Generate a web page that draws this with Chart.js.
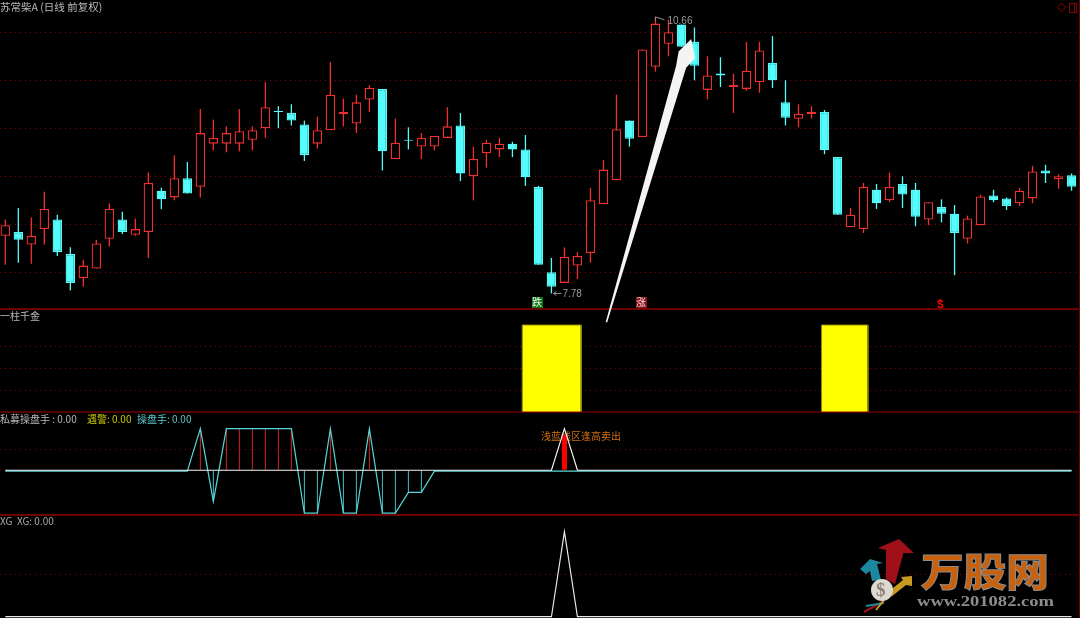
<!DOCTYPE html>
<html>
<head>
<meta charset="utf-8">
<style>
html, body { margin: 0; padding: 0; background: #000; overflow: hidden; }
canvas { display: block; }
</style>
<script src="https://cdn.jsdelivr.net/npm/chart.js@4/dist/chart.umd.js"></script>
</head>
<body>
<canvas id="klineChart" width="1080" height="618"></canvas>
<script>
// daily candles
const opens = [8.38, 8.42, 8.29, 8.45, 8.55, 8.19, 7.94, 8.04, 8.35, 8.55,
  8.39, 8.42, 8.85, 8.78, 8.98, 8.89, 9.34, 9.34, 9.34, 9.38,
  9.50, 9.68, 9.66, 9.54, 9.34, 9.48, 9.65, 9.55, 9.80, 9.91,
  9.18, 9.38, 9.31, 9.31, 9.40, 9.53, 9.00, 9.24, 9.28, 9.34,
  9.28, 8.89, 8.00, 7.89, 8.07, 8.20, 8.71, 8.96, 9.58, 9.41,
  10.14, 10.38, 10.58, 10.40, 9.90, 10.07, 9.93, 9.91, 9.98, 10.18,
  9.77, 9.60, 9.65, 9.67, 9.20, 8.47, 8.45, 8.86, 8.75, 8.92,
  8.86, 8.55, 8.68, 8.61, 8.35, 8.49, 8.80, 8.77, 8.72, 8.77,
  9.06, 8.97, 9.01];
const closes = [8.49, 8.34, 8.38, 8.66, 8.21, 7.89, 8.07, 8.30, 8.66, 8.42,
  8.45, 8.93, 8.76, 8.98, 8.82, 9.45, 9.40, 9.45, 9.47, 9.48,
  9.72, 9.67, 9.58, 9.22, 9.48, 9.85, 9.67, 9.77, 9.92, 9.26,
  9.35, 9.37, 9.40, 9.42, 9.52, 9.03, 9.18, 9.35, 9.34, 9.28,
  8.99, 8.08, 7.85, 8.16, 8.17, 8.75, 9.07, 9.49, 9.39, 10.32,
  10.59, 10.50, 10.35, 10.15, 10.05, 10.05, 9.95, 10.10, 10.31, 10.00,
  9.61, 9.65, 9.67, 9.27, 8.60, 8.60, 8.89, 8.72, 8.89, 8.81,
  8.58, 8.73, 8.61, 8.41, 8.56, 8.79, 8.75, 8.69, 8.85, 9.05,
  9.03, 9.00, 8.89];
const highs = [8.55, 8.67, 8.57, 8.84, 8.60, 8.26, 8.13, 8.34, 8.72, 8.63,
  8.56, 9.04, 8.88, 9.22, 9.15, 9.70, 9.59, 9.52, 9.70, 9.52,
  9.98, 9.73, 9.75, 9.58, 9.62, 10.19, 9.81, 9.85, 9.95, 9.91,
  9.60, 9.51, 9.45, 9.42, 9.72, 9.66, 9.31, 9.38, 9.40, 9.36,
  9.43, 8.90, 8.15, 8.26, 8.21, 8.88, 9.17, 9.85, 9.58, 10.32,
  10.66, 10.63, 10.58, 10.55, 10.25, 10.24, 10.07, 10.40, 10.40, 10.46,
  10.00, 9.75, 9.73, 9.69, 9.20, 8.67, 8.93, 8.92, 9.04, 9.00,
  8.93, 8.73, 8.76, 8.70, 8.59, 8.81, 8.86, 8.78, 8.88, 9.11,
  9.12, 9.02, 9.03];
const lows = [8.08, 8.10, 8.09, 8.29, 8.17, 7.81, 7.85, 8.04, 8.27, 8.40,
  8.38, 8.15, 8.66, 8.75, 8.82, 8.78, 9.27, 9.25, 9.26, 9.27,
  9.40, 9.50, 9.53, 9.16, 9.29, 9.48, 9.52, 9.45, 9.67, 9.06,
  9.18, 9.28, 9.18, 9.27, 9.40, 8.95, 8.75, 9.09, 9.20, 9.20,
  8.90, 8.08, 7.78, 7.89, 7.93, 8.10, 8.71, 8.96, 9.31, 9.41,
  10.09, 10.25, 10.35, 10.00, 9.80, 9.93, 9.66, 9.89, 9.87, 9.92,
  9.53, 9.51, 9.60, 9.23, 8.60, 8.47, 8.41, 8.66, 8.73, 8.67,
  8.48, 8.49, 8.52, 7.97, 8.30, 8.49, 8.73, 8.65, 8.69, 8.72,
  8.93, 8.87, 8.85];
const priceGrid = [10.5, 10, 9.5, 9, 8.5, 8];

// 一柱千金 blocks, x given in candle index units
const goldFrom = [39.75, 62.77];
const goldTo = [44.29, 66.34];
const goldHeight = 1;
const goldGrid = [0.75, 0.5, 0.25];

// 私募操盘手 panel, the cyan line rests just under the white one
const traderLine = [0, 0, 0, 0, 0, 0, 0, 0, 0, 0, 0, 0, 0, 0, 0, 0, 0, 0, 0, 0,
  0, 0, 0, 0, 0, 0, 0, 0, 0, 0, 0, 0, 0, 0, 0, 0, 0, 0, 0, 0,
  0, 0, 0, 100, 0, 0, 0, 0, 0, 0, 0, 0, 0, 0, 0, 0, 0, 0, 0, 0,
  0, 0, 0, 0, 0, 0, 0, 0, 0, 0, 0, 0, 0, 0, 0, 0, 0, 0, 0, 0,
  0, 0, 0];
const cyanLine = [-2, -2, -2, -2, -2, -2, -2, -2, -2, -2, -2, -2, -2, -2, -2, 100, -75, 100, 100, 100,
  100, 100, 100, -103, -103, 100, -103, -103, 100, -103, -103, -53, -53, -2, -2, -2, -2, -2, -2, -2,
  -2, -2, -2, -2, -2, -2, -2, -2, -2, -2, -2, -2, -2, -2, -2, -2, -2, -2, -2, -2,
  -2, -2, -2, -2, -2, -2, -2, -2, -2, -2, -2, -2, -2, -2, -2, -2, -2, -2, -2, -2,
  -2, -2, -2];
const sellIndex = [43];
const sellValue = [85];
const oscGrid = [50, 0];

// XG panel
const xgLine = [0, 0, 0, 0, 0, 0, 0, 0, 0, 0, 0, 0, 0, 0, 0, 0, 0, 0, 0, 0,
  0, 0, 0, 0, 0, 0, 0, 0, 0, 0, 0, 0, 0, 0, 0, 0, 0, 0, 0, 0,
  0, 0, 0, 100, 0, 0, 0, 0, 0, 0, 0, 0, 0, 0, 0, 0, 0, 0, 0, 0,
  0, 0, 0, 0, 0, 0, 0, 0, 0, 0, 0, 0, 0, 0, 0, 0, 0, 0, 0, 0,
  0, 0, 0];
const xgGrid = [50];

// hand drawn arrow, candle index / price units
const arrowX = [46.17, 51.59, 51.78, 52.75, 53.05, 52.36, 46.29];
const arrowY = [7.48, 10.15, 10.3, 10.43, 10.23, 10.13, 7.48];

const RED = '#f03030';
const CYAN = '#54fcfc';
const DARK_RED = '#6e0000';
const UI_FONT = '"Noto Sans CJK SC", "Liberation Sans", sans-serif';

const isUp = i => closes[i] >= opens[i];
const pts = (arr) => arr.map((v, i) => ({ x: i, y: v }));

const wicks = highs.map((h, i) => ({ x: i, y: [lows[i], h] }));
const bodies = opens.map((o, i) => ({ x: i, y: [Math.min(o, closes[i]), Math.max(o, closes[i])] }));

function polygon(ctx, points, fill) {
    ctx.beginPath();
    points.forEach((p, i) => (i ? ctx.lineTo(p[0], p[1]) : ctx.moveTo(p[0], p[1])));
    ctx.closePath();
    ctx.fillStyle = fill;
    ctx.fill();
}

function label(ctx, text, x, y, color, font) {
    ctx.font = font || ('10px ' + UI_FONT);
    ctx.fillStyle = color;
    ctx.textAlign = 'left';
    ctx.textBaseline = 'middle';
    ctx.fillText(text, x, y);
}

// text stretched to an exact width, for the logo lettering
function fitText(ctx, text, x, y, width, fill, stroke) {
    const w = ctx.measureText(text).width;
    ctx.save();
    ctx.translate(x, y);
    ctx.scale(width / w, 1);
    ctx.fillStyle = fill;
    ctx.fillText(text, 0, 0);
    if (stroke) {
        ctx.strokeStyle = stroke;
        ctx.lineWidth = 1;
        ctx.strokeText(text, 0, 0);
    }
    ctx.restore();
}

function drawLogo(ctx) {
    polygon(ctx, [[860, 569], [870, 559], [883, 563], [877, 564], [881, 580], [872, 581], [870, 571], [866, 574]], '#1c88a0');
    polygon(ctx, [[899, 539], [914, 553], [903.5, 553], [895, 584], [886, 579], [886, 550], [878, 548]], '#a01018');
    polygon(ctx, [[912, 576], [912, 586], [906, 585], [891, 597], [893, 588], [903, 580], [901, 577]], '#c89a20');
    ctx.lineWidth = 2;
    [['#a01018', 864, 612, 884, 601], ['#1c88a0', 866, 606, 884, 603], ['#c89a20', 876, 610, 884, 600]].forEach(s => {
        ctx.strokeStyle = s[0];
        ctx.beginPath();
        ctx.moveTo(s[1], s[2]);
        ctx.lineTo(s[3], s[4]);
        ctx.stroke();
    });
    ctx.beginPath();
    ctx.arc(882, 590, 11, 0, Math.PI * 2);
    ctx.fillStyle = '#ddd8d0';
    ctx.fill();
    label(ctx, '$', 876, 591, '#8a8278', 'bold 19px "Liberation Serif", serif');

    ctx.textAlign = 'left';
    ctx.textBaseline = 'middle';
    ctx.font = '900 39px ' + UI_FONT;
    fitText(ctx, '万股网', 921, 571, 128, '#c8600c', '#8c8c8c');
    ctx.font = 'bold 14px "Liberation Serif", serif';
    fitText(ctx, 'www.201082.com', 917, 602, 137, '#8c8c8c');
}

const overlay = {
    id: 'overlay',
    beforeDatasetsDraw(chart) {
        const { ctx } = chart;
        ctx.save();
        label(ctx, '浅蓝线区逢高卖出', 541, 436, '#d07010');
        ctx.restore();
    },
    afterDatasetsDraw(chart) {
        const { ctx } = chart;
        const { x: xs, yPrice } = chart.scales;
        ctx.save();

        // panel separators
        [[chart.scales.yGold.top, DARK_RED, 2], [chart.scales.yOsc.top, '#a00000', 1], [chart.scales.yXg.top, DARK_RED, 2]].forEach(l => {
            ctx.fillStyle = l[1];
            ctx.fillRect(0, Math.round(l[0]) - l[2] / 2, 1080, l[2]);
        });
        ctx.fillStyle = DARK_RED;
        ctx.fillRect(1079, 0, 1, 618);

        // big white arrow on top of the candles
        polygon(ctx, arrowX.map((v, i) => [xs.getPixelForValue(v), yPrice.getPixelForValue(arrowY[i])]), '#f4f4f4');

        // highest / lowest price labels
        const hi = highs.indexOf(Math.max(...highs));
        const lo = lows.indexOf(Math.min(...lows));
        const hx = xs.getPixelForValue(hi), hy = yPrice.getPixelForValue(highs[hi]);
        const lx = xs.getPixelForValue(lo), ly = yPrice.getPixelForValue(lows[lo]);
        ctx.strokeStyle = '#909090';
        ctx.lineWidth = 1;
        ctx.beginPath();
        ctx.moveTo(hx, hy + 4);
        ctx.lineTo(hx, hy);
        ctx.lineTo(hx + 9, hy + 3);
        ctx.moveTo(lx + 2, ly);
        ctx.lineTo(lx + 10, ly);
        ctx.moveTo(lx + 5, ly - 2);
        ctx.lineTo(lx + 2, ly);
        ctx.lineTo(lx + 5, ly + 2);
        ctx.stroke();
        label(ctx, highs[hi].toFixed(2), hx + 12, hy + 4, '#9a9a9a', '10px "Liberation Sans", sans-serif');
        label(ctx, lows[lo].toFixed(2), lx + 11, ly + 1, '#9a9a9a', '10px "Liberation Sans", sans-serif');

        // signal marks
        ctx.fillStyle = '#0a7a10';
        ctx.fillRect(532, 297, 11, 11);
        label(ctx, '跌', 532, 302.5, '#f0f0f0');
        ctx.fillStyle = '#8a1018';
        ctx.fillRect(636, 297, 11, 11);
        label(ctx, '涨', 636, 302.5, '#f0d8d8');
        polygon(ctx, [[940.3, 298.5], [942.5, 301.5], [938, 301.5]], '#ff0000');
        label(ctx, 'S', 937, 305.5, '#ff0000', 'bold 10px "Liberation Sans", sans-serif');

        // panel captions
        label(ctx, '苏常柴A (日线 前复权)', 0, 7, '#b8b8b8', '10.5px ' + UI_FONT);
        label(ctx, '一柱千金', 0, 316, '#b8b8b8');
        label(ctx, '私募操盘手 : 0.00', 0, 419.5, '#b8b8b8');
        label(ctx, '遇警: 0.00', 87, 419.5, '#c8c800');
        label(ctx, '操盘手: 0.00', 137, 419.5, '#5cc8c8');
        label(ctx, 'XG  XG: 0.00', 0, 521.5, '#a8a8a8');

        // window buttons top right
        ctx.strokeStyle = '#8a0000';
        ctx.lineWidth = 1;
        ctx.beginPath();
        ctx.moveTo(1061.5, 3);
        ctx.lineTo(1065.5, 7.5);
        ctx.lineTo(1061.5, 12);
        ctx.lineTo(1057.5, 7.5);
        ctx.closePath();
        ctx.stroke();
        ctx.strokeRect(1069.5, 3.5, 7, 9);
        ctx.beginPath();
        ctx.moveTo(1074.5, 3.5);
        ctx.lineTo(1074.5, 12.5);
        ctx.stroke();

        drawLogo(ctx);
        ctx.restore();
    }
};

function panelAxis(weight, min, max, grid) {
    return {
        type: 'linear',
        position: 'left',
        stack: 'panels',
        stackWeight: weight,
        min: min,
        max: max,
        border: { display: false, dash: [1, 4] },
        grid: { color: '#8a0000', lineWidth: 1, drawTicks: false },
        ticks: { display: false, autoSkip: false },
        afterBuildTicks: axis => { axis.ticks = grid.map(v => ({ value: v })); },
        afterFit: axis => { axis.width = 0; }
    };
}

const ctx = document.getElementById('klineChart').getContext('2d');
new Chart(ctx, {
    type: 'bar',
    data: {
        datasets: [
            { type: 'bar', yAxisID: 'yPrice', data: wicks, grouped: false, order: 5, barThickness: 1.3,
              backgroundColor: wicks.map((w, i) => isUp(i) ? RED : CYAN), inflateAmount: 0 },
            { type: 'bar', yAxisID: 'yPrice', data: bodies, grouped: false, order: 4, barThickness: 9.4,
              backgroundColor: bodies.map((b, i) => isUp(i) ? '#000' : CYAN),
              borderColor: bodies.map((b, i) => isUp(i) ? RED : CYAN),
              borderWidth: 1.3, borderSkipped: false, inflateAmount: 0 },

            ...goldFrom.map((from, k) => ({
                type: 'line', yAxisID: 'yGold', order: 4, pointRadius: 0, borderWidth: 1,
                borderColor: '#8a8a00', backgroundColor: '#ffff00', fill: 'origin',
                data: [{ x: from, y: 0 }, { x: from, y: goldHeight }, { x: goldTo[k], y: goldHeight }, { x: goldTo[k], y: 0 }]
            })),

            { type: 'bar', yAxisID: 'yOsc', grouped: false, order: 6, barThickness: 1, inflateAmount: 0,
              data: pts(cyanLine).filter(p => p.y > 0), backgroundColor: '#d02028' },
            { type: 'bar', yAxisID: 'yOsc', grouped: false, order: 6, barThickness: 1, inflateAmount: 0,
              data: pts(cyanLine).filter(p => p.y < -2), backgroundColor: '#40c0c0' },
            { type: 'bar', yAxisID: 'yOsc', grouped: false, order: 3, barThickness: 5, inflateAmount: 0,
              data: sellIndex.map((x, k) => ({ x: x, y: sellValue[k] })), backgroundColor: '#ff0000' },
            { type: 'line', yAxisID: 'yOsc', order: 4, data: pts(cyanLine), borderColor: '#54d8d8',
              borderWidth: 1.2, pointRadius: 0, tension: 0 },
            { type: 'line', yAxisID: 'yOsc', order: 2, data: pts(traderLine), borderColor: '#f4f4f4',
              borderWidth: 1.2, pointRadius: 0, tension: 0 },

            { type: 'line', yAxisID: 'yXg', order: 2, data: pts(xgLine), borderColor: '#e8e8e8',
              borderWidth: 1.2, pointRadius: 0, tension: 0 }
        ]
    },
    options: {
        responsive: false,
        devicePixelRatio: 1,
        animation: false,
        layout: { padding: 0 },
        plugins: { legend: { display: false }, tooltip: { enabled: false } },
        scales: {
            x: { type: 'linear', display: false, offset: false, min: -0.408, max: 82.65, grid: { display: false } },
            // stacked axes are placed bottom-up, so the lowest panel comes first
            yXg: panelAxis(1, -1.5, 119.6, xgGrid),
            yOsc: panelAxis(1, -107.5, 140, oscGrid),
            yGold: panelAxis(1, 0, 1.184, goldGrid),
            yPrice: panelAxis(3, 7.618, 10.836, priceGrid)
        }
    },
    plugins: [overlay, { id: 'blackBg', beforeDraw(c) { c.ctx.fillStyle = '#000'; c.ctx.fillRect(0, 0, 1080, 618); } }]
});
</script>
</body>
</html>
